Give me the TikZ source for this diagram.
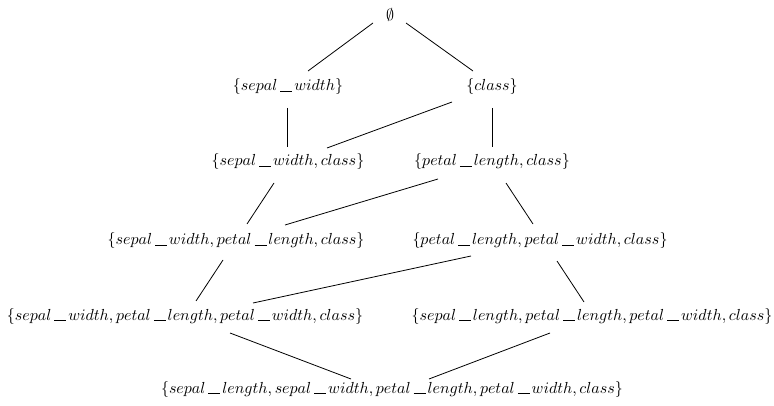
\documentclass[tikz,border=0pt]{standalone}
\usepackage{graphicx}
\usepackage{amssymb}
\newcommand\us{\mbox{\kern1.8pt\rule[-0.5pt]{7.5pt}{0.3pt}\kern1.2pt}}
\newcommand\lb[1]{\scalebox{1.6}{$#1$}}
\begin{document}
\begin{tikzpicture}[x=1pt,y=-1pt,
  lbl/.style={inner sep=0pt},
  edge/.style={line width=0.8pt,black}]
\useasboundingbox (0,0) rectangle (774,406);
\node[lbl] (e) at (390,15) {\lb{\emptyset}};
\node[lbl] (sw) at (288,87) {\lb{\{sepal\us width\}}};
\node[lbl] (cl) at (492,87) {\lb{\{class\}}};
\node[lbl] (swc) at (288,162) {\lb{\{sepal\us width, class\}}};
\node[lbl] (plc) at (492,162) {\lb{\{petal\us length, class\}}};
\node[lbl] (swplc) at (236,241) {\lb{\{sepal\us width, petal\us length, class\}}};
\node[lbl] (plpwc) at (540,241) {\lb{\{petal\us length, petal\us width, class\}}};
\node[lbl] (swplpwc) at (185,316) {\lb{\{sepal\us width, petal\us length, petal\us width, class\}}};
\node[lbl] (slplpwc) at (592,316) {\lb{\{sepal\us length, petal\us length, petal\us width, class\}}};
\node[lbl] (bot) at (392,389) {\lb{\{sepal\us length, sepal\us width, petal\us length, petal\us width, class\}}};
\draw[edge] ([shift={(-17,8)}]e.center) -- ([shift={(20,-16)}]sw.center);
\draw[edge] ([shift={(16,8)}]e.center) -- ([shift={(-19,-16)}]cl.center);
\draw[edge] ([shift={(-1,21)}]sw.center) -- ([shift={(-1,-15)}]swc.center);
\draw[edge] ([shift={(-40,15)}]cl.center) -- ([shift={(39,-14)}]swc.center);
\draw[edge] ([shift={(0,21)}]cl.center) -- ([shift={(0,-15)}]plc.center);
\draw[edge] ([shift={(-14,21)}]swc.center) -- ([shift={(11,-17)}]swplc.center);
\draw[edge] ([shift={(-54,17)}]plc.center) -- ([shift={(49,-16)}]swplc.center);
\draw[edge] ([shift={(14,21)}]plc.center) -- ([shift={(-7,-17)}]plpwc.center);
\draw[edge] ([shift={(-13,19)}]swplc.center) -- ([shift={(11,-15)}]swplpwc.center);
\draw[edge] ([shift={(-69,15)}]plpwc.center) -- ([shift={(68,-13)}]swplpwc.center);
\draw[edge] ([shift={(17,20)}]plpwc.center) -- ([shift={(-8,-14)}]slplpwc.center);
\draw[edge] ([shift={(45,17)}]swplpwc.center) -- ([shift={(-41,-10)}]bot.center);
\draw[edge] ([shift={(-42,17)}]slplpwc.center) -- ([shift={(37,-10)}]bot.center);
\end{tikzpicture}
\end{document}
